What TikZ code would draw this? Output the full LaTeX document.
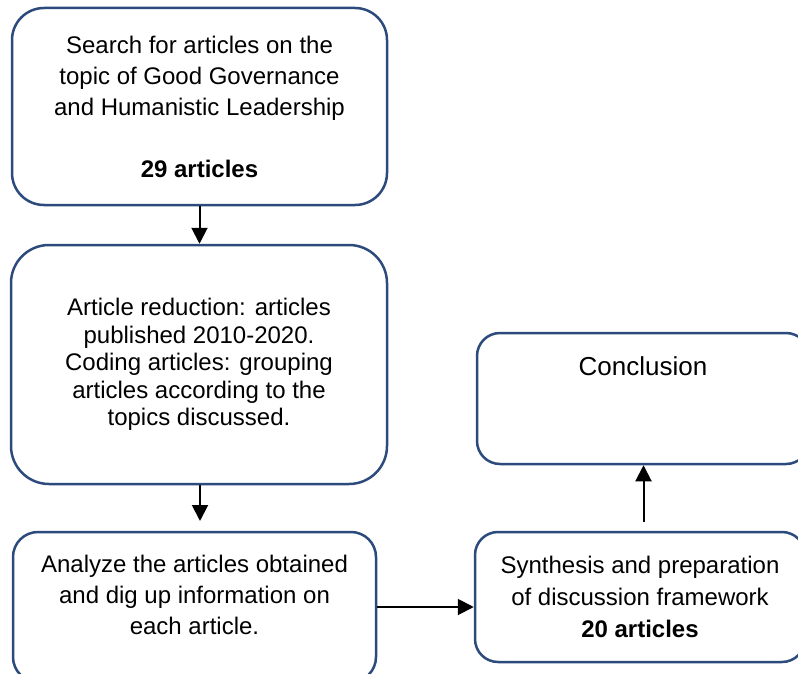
\documentclass[tikz,border=0pt]{standalone}
\usepackage{fontspec}
\setmainfont{Liberation Sans}
\usetikzlibrary{arrows.meta}
\definecolor{boxblue}{RGB}{44,74,124}
\begin{document}
\begin{tikzpicture}[x=1pt,y=-1pt,
  boxstyle/.style={draw=boxblue, line width=2.5pt, fill=white, rounded corners=#1},
  boxstyle/.default=30pt,
  txt/.style={align=center, font=\fontsize{24}{31}\selectfont, inner sep=0pt},
  conn/.style={line width=2pt, -{Triangle[length=16pt,width=16pt]}}]
\useasboundingbox (0,0) rectangle (798,674);

% boxes
\node[boxstyle=32pt, minimum width=375pt, minimum height=197pt, txt] (b1) at (199.5,106.5)
  {Search for articles on the\\topic of Good Governance\\and Humanistic Leadership\\[31pt]\textbf{29 articles}};
\node[boxstyle=38pt, minimum width=376pt, minimum height=239pt, txt, font=\fontsize{24}{27.5}\selectfont] (b2) at (199,364.5)
  {Article reduction: articles\\published 2010-2020.\\Coding articles: grouping\\articles according to the\\topics discussed.};
\node[boxstyle=25pt, minimum width=363pt, minimum height=150pt,
  label={[txt, anchor=center, yshift=-64.5pt]north:{Analyze the articles obtained\\and dig up information on\\each article.}}] (b3) at (194.5,607) {};
\node[boxstyle=23pt, minimum width=330pt, minimum height=130pt, txt, font=\fontsize{24}{32}\selectfont] (s) at (640,597)
  {Synthesis and preparation\\of discussion framework\\\textbf{20 articles}};
\node[boxstyle=23pt, minimum width=332pt, minimum height=131pt,
  label={[txt, font=\fontsize{26}{31}\selectfont, anchor=center, yshift=-34pt]north:Conclusion}] (c) at (643,398.5) {};

% free ends
\coordinate (a2end) at (200,521);
\coordinate (a4start) at (643.5,522);

% connectors
\draw[conn] (b1.south) -- (b1.south |- b2.north);
\draw[conn] (b2.south -| a2end) -- (a2end);
\draw[conn] (b3.east) -- (b3.east -| s.west);
\draw[conn] (a4start) -- (a4start |- c.south);
\end{tikzpicture}
\end{document}
